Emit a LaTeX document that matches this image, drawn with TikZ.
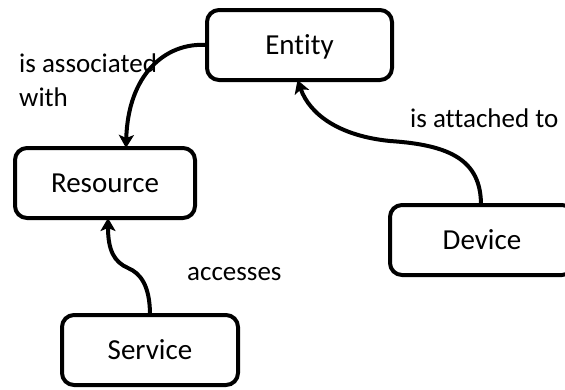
\documentclass[tikz,border=0pt]{standalone}
\usepackage{fontspec}
\setmainfont[Ligatures={NoCommon}]{Carlito}
\usetikzlibrary{arrows.meta,calc}
\begin{document}
\begin{tikzpicture}[x=1pt,y=-1pt,
  box/.style={draw=black,line width=4pt,rounded corners=12pt,outer sep=0pt,
    minimum height=70pt,inner sep=0pt,text height=22pt,text depth=3pt,
    font=\fontsize{29}{35}\selectfont},
  lbl/.style={inner sep=0pt,anchor=base west,font=\fontsize{27}{33}\selectfont},
  conn/.style={line width=4pt,-{Stealth[length=13pt,width=15pt,inset=3pt]}}]
\useasboundingbox (0,0) rectangle (565,389);
\node[box,minimum width=185pt] (ent) at (299.5,45) {Entity};
\node[box,minimum width=180pt] (res) at (105,183) {Resource};
\node[box,minimum width=184pt] (dev) at (482,240) {Device};
\node[box,minimum width=176pt] (ser) at (150,350) {Service};
\node[lbl] (l1a) at (19,72) {is associated};
\node[lbl] (l1b) at (19,106) {with};
\node[lbl] (l2) at (410,127) {is attached to};
\node[lbl] (l3) at (187,280) {accesses};
\draw[conn] (ent.west) .. controls (165,42) and (128,75) .. ([xshift=21pt]res.north);
\draw[conn] ([xshift=-1pt]dev.north) .. controls (481,160) and (450,145) .. (390,141)
  .. controls (340,136) and (310,115) .. ([xshift=-2pt]ent.south);
\draw[conn] (ser.north) .. controls (150,285) and (140,273) .. (128,268)
  .. controls (114,262) and (108,250) .. ([xshift=3pt]res.south);
\end{tikzpicture}
\end{document}
